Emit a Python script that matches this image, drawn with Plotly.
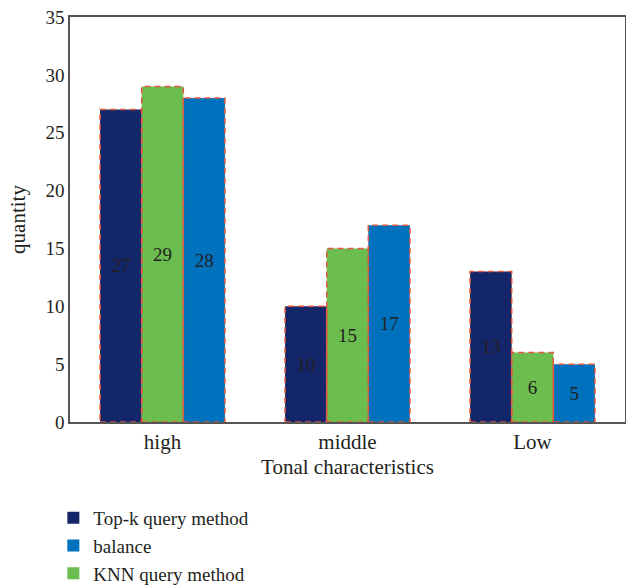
import plotly.graph_objects as go

categories = ["high", "middle", "Low"]
series_names = ["Top-k query method", "KNN query method", "balance"]
topk_values = [27, 10, 13]
knn_values = [29, 15, 6]
balance_values = [28, 17, 5]
y_ticks = [0, 5, 10, 15, 20, 25, 30, 35]

colors = ["#13266A", "#6ABD4E", "#0071BC"]
legend_ranks = [1, 3, 2]
series_values = [topk_values, knn_values, balance_values]
edge = "#E4583E"
FF = "Liberation Serif"
TXT = "#231F20"

def f(size):
    return dict(family=FF, size=size, color=TXT)

fig = go.Figure()
for name, vals, col, rank in zip(series_names, series_values, colors, legend_ranks):
    fig.add_trace(go.Bar(
        name=name, x=categories, y=vals,
        marker=dict(color=col, line=dict(width=0)),
        text=[str(v) for v in vals], textposition="inside",
        insidetextanchor="middle", textangle=0,
        textfont=f(19),
        legendrank=rank,
    ))

# dashed outlines around each bar
group_w = 0.675
bar_w = group_w / len(series_values)
for si, vals in enumerate(series_values):
    for ci, v in enumerate(vals):
        x0 = ci - group_w / 2 + si * bar_w
        fig.add_shape(type="rect", xref="x", yref="y",
                      x0=x0, x1=x0 + bar_w, y0=0, y1=v,
                      line=dict(color=edge, width=1.5, dash="6px,4px"),
                      fillcolor="rgba(0,0,0,0)", layer="above")

fig.update_layout(
    width=626, height=585,
    margin=dict(l=70, r=1, t=17, b=163, autoexpand=False),
    barmode="group", bargap=1 - group_w, bargroupgap=0,
    plot_bgcolor="white", paper_bgcolor="white",
    font=f(19),
    showlegend=True,
    legend=dict(x=-0.03, y=-0.19, xanchor="left", yanchor="top",
                orientation="v", font=f(19), bgcolor="rgba(0,0,0,0)",
                tracegroupgap=0),
    uniformtext=dict(mode=False),
)
fig.update_xaxes(
    title=dict(text="Tonal characteristics", standoff=6, font=f(21)),
    tickfont=f(21),
    showline=True, linecolor="#555", linewidth=1.5, mirror=True,
    ticks="", showgrid=False,
)
fig.update_yaxes(
    title=dict(text="quantity", standoff=14, font=f(21)),
    tickfont=f(19),
    range=[0, 35], tickvals=y_ticks,
    showline=True, linecolor="#555", linewidth=1.5, mirror=True,
    ticks="", showgrid=False, zeroline=False,
)
fig.write_html("out.html")
